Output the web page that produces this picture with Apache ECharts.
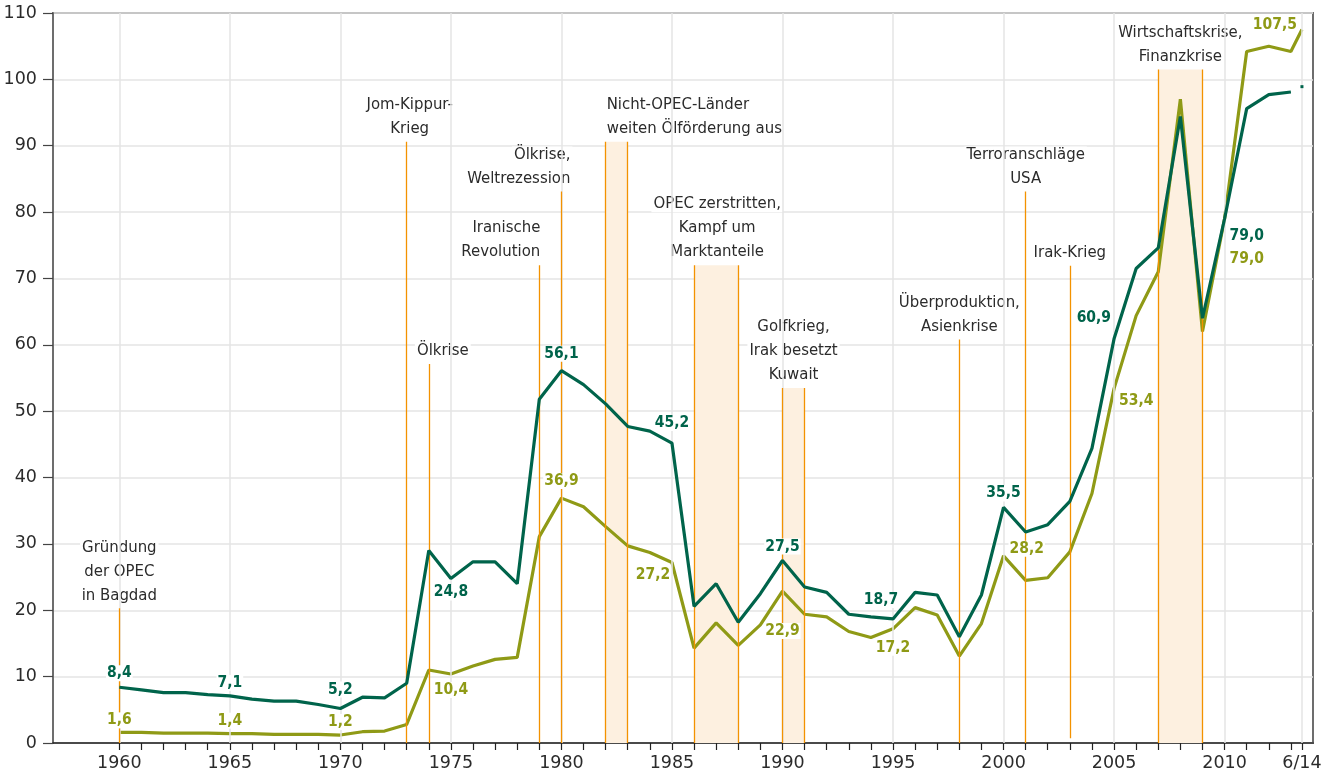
<!DOCTYPE html>
<html>
<head>
<meta charset="utf-8">
<script src="https://cdn.jsdelivr.net/npm/echarts@6/dist/echarts.min.js"></script>
<style>html,body{margin:0;padding:0;background:#fff}#chart{width:1332px;height:777px}</style>
</head>
<body>
<div id="chart"></div>
<script>
// ---------------- data ----------------
const years = [1960,1961,1962,1963,1964,1965,1966,1967,1968,1969,
  1970,1971,1972,1973,1974,1975,1976,1977,1978,1979,
  1980,1981,1982,1983,1984,1985,1986,1987,1988,1989,
  1990,1991,1992,1993,1994,1995,1996,1997,1998,1999,
  2000,2001,2002,2003,2004,2005,2006,2007,2008,2009,
  2010,2011,2012,2013,2013.5];
// dark green line
const realPrice = [8.4,8.0,7.6,7.6,7.3,7.1,6.6,6.3,6.3,5.8,
  5.2,6.9,6.8,9.0,29.0,24.8,27.3,27.3,24.0,51.8,
  56.1,54.0,51.1,47.7,47.0,45.2,20.6,24.0,18.2,22.5,
  27.5,23.5,22.7,19.4,19.0,18.7,22.7,22.3,16.0,22.3,
  35.5,31.8,32.9,36.4,44.4,60.9,71.5,74.6,94.4,64.0,
  79.0,95.6,97.7,98.1,98.9];
// olive line
const nominalPrice = [1.6,1.6,1.5,1.5,1.5,1.4,1.4,1.3,1.3,1.3,
  1.2,1.7,1.8,2.8,11.0,10.4,11.6,12.6,12.9,31.1,
  36.9,35.6,32.6,29.7,28.7,27.2,14.3,18.1,14.7,17.8,
  22.9,19.4,19.0,16.8,15.9,17.2,20.4,19.3,13.1,18.0,
  28.2,24.5,24.9,28.8,37.6,53.4,64.4,71.0,97.0,62.0,
  79.0,104.2,105.0,104.2,107.5];
const realLabelYears = [1960,1965,1970,1975,1980,1985,1990,1995,2000,2005,2010];
const nominalLabelYears = [1960,1965,1970,1975,1980,1985,1990,1995,2000,2005,2010,2013.5];
const xLabelValues = [1960,1965,1970,1975,1980,1985,1990,1995,2000,2005,2010,2013.5];
const xLabelTexts = ['1960','1965','1970','1975','1980','1985','1990','1995','2000','2005','2010','6/14'];
const events = [
  {text:'Gründung\nder OPEC\nin Bagdad', from:1960, top:20.3},
  {text:'Jom-Kippur-\nKrieg', from:1973, top:90.6},
  {text:'Ölkrise', from:1974, top:57.1},
  {text:'Iranische\nRevolution', from:1979, top:72.0},
  {text:'Ölkrise,\nWeltrezession', from:1980, top:83.1},
  {text:'Nicht-OPEC-Länder\nweiten Ölförderung aus', from:1982, to:1983, top:90.6},
  {text:'OPEC zerstritten,\nKampf um\nMarktanteile', from:1986, to:1988, top:72.0},
  {text:'Golfkrieg,\nIrak besetzt\nKuwait', from:1990, to:1991, top:53.5},
  {text:'Überproduktion,\nAsienkrise', from:1998, top:60.8},
  {text:'Terroranschläge\nUSA', from:2001, top:83.1},
  {text:'Irak-Krieg', from:2003, top:71.9, base:0.7},
  {text:'Wirtschaftskrise,\nFinanzkrise', from:2007, to:2009, top:101.5}
];

// ---------------- styles ----------------
const DARK = '#00644b', OLIVE = '#8f9a16', ORANGE = '#f39200', BAND = '#fdf0e0', TXT = '#2b2b2b';
const COND = "'DejaVu Sans Condensed', 'DejaVu Sans', sans-serif";
const AXISFONT = "'DejaVu Sans', sans-serif";
const LINE_GAP = 24;
const realLabelStyle = {
  1960:{position:'top',distance:6}, 1965:{position:'top',distance:5}, 1970:{position:'top',distance:11},
  1975:{position:'bottom',distance:6}, 1980:{position:'top',distance:9}, 1985:{position:'top',distance:12},
  1990:{position:'top',distance:6}, 1995:{position:'top',distance:11,offset:[-12,0]},
  2000:{position:'top',distance:6}, 2005:{position:'left',distance:2,offset:[0,-21]},
  2010:{position:'right',distance:4,offset:[0,17]}
};
const nominalLabelStyle = {
  1960:{position:'top',distance:4}, 1965:{position:'top',distance:5}, 1970:{position:'top',distance:5},
  1975:{position:'bottom',distance:8}, 1980:{position:'top',distance:9},
  1985:{position:'bottom',distance:4,offset:[-19,0]}, 1990:{position:'bottom',distance:32},
  1995:{position:'bottom',distance:11}, 2000:{position:'right',distance:5,offset:[0,-7]},
  2005:{position:'right',distance:4,offset:[0,12]}, 2010:{position:'right',distance:4,offset:[0,40]},
  2013.5:{position:'left',distance:4,offset:[0,-5]}
};
const eventLabelStyle = [
  {align:'center',dx:0},{align:'center',dx:3},{align:'center',dx:14},{align:'right',dx:3},
  {align:'right',dx:11},{align:'left',dx:-12},{align:'center',dx:1},{align:'center',dx:0},
  {align:'center',dx:0},{align:'center',dx:0},{align:'center',dx:0},{align:'center',dx:0}
];

const fmt = v => v.toFixed(1).replace('.', ',');
const pairs = (arr) => years.map((y, i) => [y, arr[i]]);
function labelPoints(arr, labelYears, styles, color) {
  return labelYears.map(y => {
    const i = years.indexOf(y);
    const s = styles[y] || {};
    return {
      value: [y, arr[i]],
      label: Object.assign({show:true, formatter: fmt(arr[i]), color: color, fontWeight:'bold',
        fontSize:15.5, lineHeight:16, fontFamily: COND, backgroundColor:'#fff', padding:[0,1]}, s)
    };
  });
}

const realLine = pairs(realPrice).filter(p => Number.isInteger(p[0]));
const realLatest = pairs(realPrice).filter(p => !Number.isInteger(p[0]));

const eventLines = [];
events.forEach(e => {
  const xs = e.to !== undefined ? [e.from, e.to] : [e.from];
  xs.forEach(x => eventLines.push([{coord:[x, e.base || 0]}, {coord:[x, e.top]}]));
});
const eventAreas = events.filter(e => e.to !== undefined).map(e => [{coord:[e.from, 0]}, {coord:[e.to, e.top]}]);
// one label per text line so each white box stays tight around its line
const eventTexts = [];
events.forEach((e, i) => {
  const lines = e.text.split('\n');
  lines.forEach((ln, j) => {
    eventTexts.push({
      value: [e.to !== undefined ? (e.from + e.to) / 2 : e.from, e.top],
      label: {show:true, formatter: ln, position:'top', distance:5, align: eventLabelStyle[i].align,
        offset:[eventLabelStyle[i].dx, -LINE_GAP * (lines.length - 1 - j)], color: TXT, fontSize:16.6,
        lineHeight:16, fontFamily: COND, backgroundColor:'#fff', padding:[0,2]}
    });
  });
});

const chart = echarts.init(document.getElementById('chart'), null, {renderer:'canvas'});
chart.setOption({
  animation:false,
  backgroundColor:'#fff',
  grid:{left:53, right:19, top:13, bottom:34, show:true, borderColor:'#6d6d6d', borderWidth:2, backgroundColor:'transparent'},
  xAxis:{
    type:'value', min:1957, max:2014,
    axisLine:{show:true, onZero:false, lineStyle:{color:'#222', width:1.5}},
    axisTick:{show:true, customValues: years, length:7, lineStyle:{color:'#222', width:1.2}},
    axisLabel:{customValues: xLabelValues, margin:11, color: TXT, fontSize:17.5, fontFamily: AXISFONT,
      formatter: v => xLabelTexts[xLabelValues.indexOf(v)] || ''},
    splitLine:{show:false}
  },
  yAxis:{
    type:'value', min:0, max:110, interval:10,
    axisLine:{show:true, lineStyle:{color:'#6d6d6d', width:2}},
    axisTick:{show:true, length:10, lineStyle:{color:'#444', width:1.2}},
    axisLabel:{margin:16, color: TXT, fontSize:17.5, fontFamily: AXISFONT},
    splitLine:{show:true, lineStyle:{color:'#e4e4e4', width:1.5}}
  },
  series:[
    { name:'grid', type:'line', data:[], z:1, silent:true,
      markLine:{silent:true, symbol:'none', label:{show:false}, lineStyle:{color:'#e4e4e4', width:1.5, type:'solid'},
        data: xLabelValues.map(x => ({xAxis:x}))} },
    { name:'events', type:'line', data:[], z:2, silent:true,
      markArea:{silent:true, itemStyle:{color: BAND}, data: eventAreas},
      markLine:{silent:true, symbol:'none', label:{show:false}, lineStyle:{color: ORANGE, width:1.3, type:'solid'},
        data: eventLines} },
    { name:'eventText', type:'scatter', data: eventTexts, symbolSize:0, z:3, silent:true, itemStyle:{opacity:1} },
    { name:'nominal', type:'line', data: pairs(nominalPrice), z:4, showSymbol:false, symbol:'none',
      lineStyle:{color: OLIVE, width:3.2}, itemStyle:{color: OLIVE} },
    { name:'real', type:'line', data: realLine, z:5, showSymbol:false, symbol:'none',
      lineStyle:{color: DARK, width:3.2}, itemStyle:{color: DARK} },
    { name:'realLatest', type:'scatter', data: realLatest, z:5, symbol:'rect', symbolSize:3, itemStyle:{color: DARK, opacity:1} },
    { name:'nominalLabels', type:'scatter', data: labelPoints(nominalPrice, nominalLabelYears, nominalLabelStyle, OLIVE), symbolSize:0, z:6, itemStyle:{opacity:1} },
    { name:'realLabels', type:'scatter', data: labelPoints(realPrice, realLabelYears, realLabelStyle, DARK), symbolSize:0, z:6, itemStyle:{opacity:1} }
  ]
});
</script>
</body>
</html>
